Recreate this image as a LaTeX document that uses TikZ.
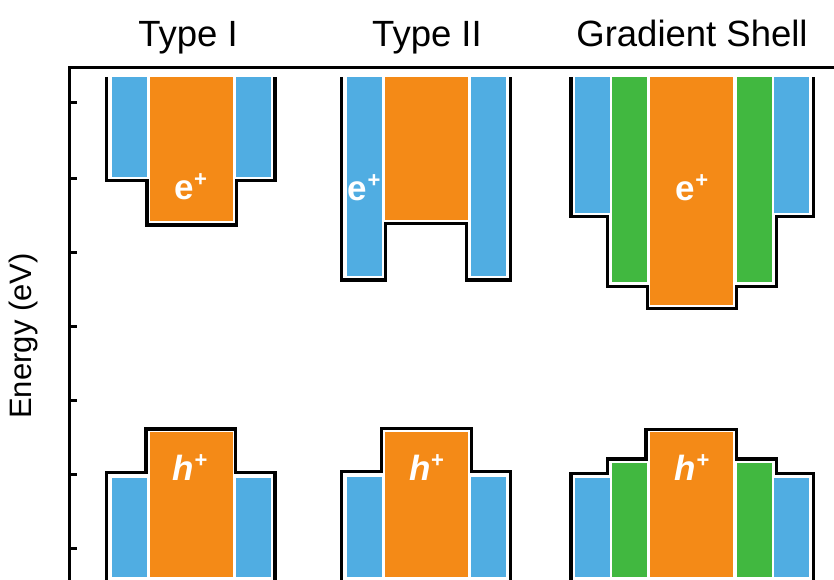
\documentclass[tikz,border=0pt]{standalone}
\usepackage{fontspec}
\setmainfont{Liberation Sans}
\definecolor{cblue}{RGB}{80,173,226}
\definecolor{corange}{RGB}{244,138,23}
\definecolor{cgreen}{RGB}{65,184,64}
\newcommand{\carrier}[1]{#1\kern0.5pt\raisebox{12.5pt}{\fontsize{22}{22}\selectfont\bfseries\upshape +}}
\tikzset{
  outline/.style={line width=3.5pt, line join=miter, black},
  axisline/.style={line width=3pt, black},
  title/.style={font=\fontsize{36.5}{40}\selectfont, anchor=base, inner sep=0pt},
  elab/.style={font=\fontsize{35}{38}\selectfont\bfseries, text=white, anchor=base, inner sep=0pt},
  hlab/.style={font=\fontsize{35}{38}\selectfont\bfseries\itshape, text=white, anchor=base, inner sep=0pt}
}
\begin{document}
\begin{tikzpicture}[x=1pt,y=-1pt]
\useasboundingbox (0,0) rectangle (834,580);
% axes
\draw[axisline] (69,580) -- (69,68) -- (834,68);
\foreach \yy in {103,178,252,326,400,474,548}
  \draw[axisline] (69,\yy) -- (77,\yy);
\node[font=\fontsize{31}{33}\selectfont, rotate=90, inner sep=0pt] (ylab) at (23,336) {Energy (eV)};
% titles
\node[title] (t1) at (188,46.7) {Type I};
\node[title] (t2) at (427,46.7) {Type II};
\node[title] (t3) at (692,46.7) {Gradient Shell};

% ---- Type I ----
\fill[cblue] (111.7,77) rectangle (147,176.7);
\fill[corange] (150,77) rectangle (232.7,221);
\fill[cblue] (236,77) rectangle (270.7,176.7);
\draw[outline] (106.7,77) -- (106.7,180.7) -- (147,180.7) -- (147,225) -- (236.7,225) -- (236.7,180.7) -- (275,180.7) -- (275,77);
\fill[cblue] (111.7,477.7) rectangle (147,577);
\fill[corange] (150,432.3) rectangle (232.7,577);
\fill[cblue] (236,477.7) rectangle (270.7,577);
\draw[outline] (106.7,580) -- (106.7,472.7) -- (146,472.7) -- (146,429) -- (235.7,429) -- (235.7,472.7) -- (275,472.7) -- (275,580);
\node[elab] (e1) at (190.5,199) {\carrier{e}};
\node[hlab] (h1) at (190,480) {\carrier{h}};

% ---- Type II ----
\fill[cblue] (346.5,77) rectangle (382,276);
\fill[corange] (385,77) rectangle (467.5,220);
\fill[cblue] (471,77) rectangle (505.5,276);
\draw[outline] (341.7,77) -- (341.7,280) -- (385.7,280) -- (385.7,223.3) -- (466.7,223.3) -- (466.7,280) -- (510.7,280) -- (510.7,77);
\fill[cblue] (346.5,477.3) rectangle (382,577);
\fill[corange] (385,431.7) rectangle (467.5,577);
\fill[cblue] (471,477.3) rectangle (505.5,577);
\draw[outline] (341.7,580) -- (341.7,471.7) -- (381.5,471.7) -- (381.5,428.3) -- (471.3,428.3) -- (471.3,471.7) -- (510.7,471.7) -- (510.7,580);
\node[elab] (e2) at (364,200) {\carrier{e}};
\node[hlab] (h2) at (426.5,480) {\carrier{h}};

% ---- Gradient Shell ----
\fill[cblue] (575,77) rectangle (610,212.7);
\fill[cgreen] (611.7,77) rectangle (647.3,281.7);
\fill[corange] (650,77) rectangle (733.3,305);
\fill[cgreen] (736.7,77) rectangle (772.3,281.7);
\fill[cblue] (774,77) rectangle (809.3,212.7);
\draw[outline] (571,77) -- (571,216.7) -- (607.7,216.7) -- (607.7,286.7) -- (647.7,286.7) -- (647.7,308.3) -- (736.7,308.3) -- (736.7,286.7) -- (776.7,286.7) -- (776.7,216.7) -- (813.3,216.7) -- (813.3,77);
\fill[cblue] (575,477.7) rectangle (610,577);
\fill[cgreen] (611.7,462.7) rectangle (647.3,577);
\fill[corange] (650,432.3) rectangle (733.3,577);
\fill[cgreen] (736.7,462.7) rectangle (772.3,577);
\fill[cblue] (774,477.7) rectangle (809.3,577);
\draw[outline] (571,580) -- (571,473.3) -- (607.7,473.3) -- (607.7,459) -- (646,459) -- (646,429.3) -- (736.7,429.3) -- (736.7,459) -- (776.7,459) -- (776.7,473.3) -- (813.3,473.3) -- (813.3,580);
\node[elab] (e3) at (691.7,200) {\carrier{e}};
\node[hlab] (h3) at (692,480) {\carrier{h}};
\end{tikzpicture}
\end{document}
